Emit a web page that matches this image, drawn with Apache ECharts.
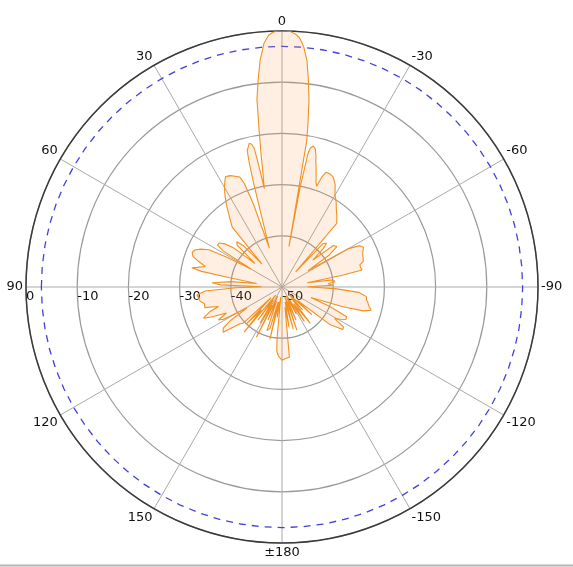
<!DOCTYPE html>
<html>
<head>
<meta charset="utf-8">
<script src="https://cdn.jsdelivr.net/npm/echarts@6/dist/echarts.min.js"></script>
<style>
html,body{margin:0;padding:0;background:#fff;}
#chart{width:573px;height:567px;}
</style>
</head>
<body>
<div id="chart"></div>
<script>
// Pattern angle (deg, 0 = top, positive to the left) and gain (dB)
const patternAngle = [
-180,-177,-174,-172.4,-171.5,-170,-168,-165,-163,-161,-159,-157,-155,-152,-150,-147,-145,-142,-140,-138,-136,-133,-131,-128,-125,-123,-121,-119,-117,-114.7,-112,-110,-108,-106.4,-104.6,-102,-100,-98.7,-96.5,-94,-92,-91,-89.5,-88,-86,-84.3,-82,-80.5,-79,-78,-76,-74.2,-72.7,-70.6,-68,-66,-64,-62,-60,-58,-56,-53.6,-51,-49,-47,-45.6,-43.4,-42,-40.7,-38,-35,-32.5,-30,-27.5,-25,-23,-21,-20,-19,-18,-16.5,-15,-14.5,-13.5,-12.5,-11.5,-11,-10.3,-9.8,-9.6,-9,-8.2,-7.2,-6.3,-5.2,-4.6,-4,-3,-2,-1,
0,1,2,3,4.2,4.5,5.5,6.5,7.6,8.3,9,9.5,10.2,10.8,11.3,12,12.8,13.6,14.3,14.8,15.3,18,19,20,21,23,25,27,28,30,32,34.5,37,39.8,41,43,45,47,49,51,53,55,57,58.5,60,61.5,63,65,67,69,71,73,75,77,78,79,80,82,84,86.5,88,89.5,91,93,95.4,97,100,102,105,107,109,111.7,113,115,117.4,119,121,123,125,127.5,129,131,133,134.5,136,138,140,142,144,146,148.7,151,153,155,157,159,161,163.9,165.5,167,169,171,173,174.5,175.3,177,180
];
const patternGain = [
-35.7,-36,-36.2,-36.3,-46,-42,-47,-41.5,-48,-41.1,-47,-43,-48,-44,-47,-42,-46,-41,-47,-44,-48,-42,-46,-38,-35.5,-35.7,-38,-37,-36,-36.1,-40,-44,-37.5,-33.5,-32,-32.7,-33,-33.3,-33.4,-35,-39.3,-39.5,-45,-40,-41,-39.6,-40,-45,-38,-34,-34.2,-34.2,-33.4,-33.2,-33,-32.7,-32.3,-32.8,-35,-44,-39,-36.7,-37.1,-42,-39,-37.8,-38.3,-46,-33.6,-32.6,-31.5,-30.3,-29.3,-27.5,-26.3,-26,-26,-27,-29.2,-28.5,-26.5,-24.5,-23.5,-22.2,-21.8,-22.3,-23.5,-30,-42,-21,-17.5,-13,-9,-5.5,-3,-2,-1.2,-0.5,-0.1,0,
0,0,-0.2,-0.7,-2.2,-3,-5.5,-9,-13,-19,-24,-27.5,-30.5,-26,-22.5,-21.5,-21.2,-21.5,-22.5,-25,-29,-42,-33,-28.5,-27,-26.5,-26,-25.8,-26.3,-27.5,-29,-31,-33,-34.8,-44,-39,-37.5,-38,-43,-38,-36,-35,-35,-36.5,-43,-38,-34,-32.5,-31.5,-31.2,-31.6,-33,-34.5,-33,-32,-34,-39.6,-45,-40,-36.3,-38,-46,-41,-35,-33.3,-33.5,-33.8,-34.5,-34.4,-37,-35,-33.5,-35,-38,-36,-37,-42,-38,-36,-35.5,-35.7,-39,-39.6,-47,-40,-44,-38.5,-48,-42,-47,-41.8,-46,-39,-48,-43,-47,-41,-41.6,-47,-39.5,-47,-44,-48,-40,-37.5,-36.5,-35.7
];
// -3 dB reference circle
const refLevelDb = -3;
// tick labels
const angleTickLabels = ['90','60','30','0','-30','-60','-90','-120','-150','±180','150','120',''];
const radiusTickLabels = ['-50','-40','-30','-20','-10','0'];

// convert pattern angle (0 top, CCW positive) to axis value (axis starts at left, clockwise)
function toAxis(a){ return 90 - a; }

const patternData = patternAngle.map((a,i)=>[patternGain[i], toAxis(a)]);
const refData = [];
for (let a = 0; a <= 360; a += 5) refData.push([refLevelDb, a]);

const chart = echarts.init(document.getElementById('chart'), null, {renderer:'canvas'});
const fontFam = '"DejaVu Sans", "Noto Sans CJK JP", sans-serif';
chart.setOption({
  animation:false,
  backgroundColor:'#ffffff',
  polar:{center:[282,287], radius:256},
  angleAxis:{
    type:'value', min:0, max:360, interval:30, startAngle:180, clockwise:true,
    axisLine:{show:true, lineStyle:{color:'#3a3a3a', width:1.5}},
    axisTick:{show:false},
    axisLabel:{show:true, margin:3, color:'#111', fontSize:13, fontFamily:fontFam,
      formatter:function(v){ return angleTickLabels[Math.round(v/30)] || ''; }},
    splitLine:{show:true, lineStyle:{color:'#a9a9a9', width:1}}
  },
  radiusAxis:{
    type:'value', min:-50, max:0, interval:10,
    axisLine:{show:false}, axisTick:{show:false},
    axisLabel:{show:true, color:'#111', fontSize:13, fontFamily:fontFam, margin:3,
      align:'left', verticalAlign:'top',
      formatter:function(v){ return radiusTickLabels[Math.round((v+50)/10)]; }},
    splitLine:{show:true, lineStyle:{color:'#9a9a9a', width:1.2}}
  },
  series:[
    {
      type:'line', coordinateSystem:'polar', data:refData, symbol:'none', silent:true,
      lineStyle:{color:'#4040dc', width:1.3, type:[7,6]}, z:3
    },
    {
      type:'line', coordinateSystem:'polar', data:patternData, symbol:'none', silent:true,
      lineStyle:{color:'#f29022', width:1.1},
      areaStyle:{color:'rgba(247,150,60,0.21)', origin:'start'}, z:4
    }
  ],
  graphic:[{type:'line', shape:{x1:0,y1:565.5,x2:573,y2:565.5}, style:{stroke:'#b4b4b4', lineWidth:2}}]
});
</script>
</body>
</html>
